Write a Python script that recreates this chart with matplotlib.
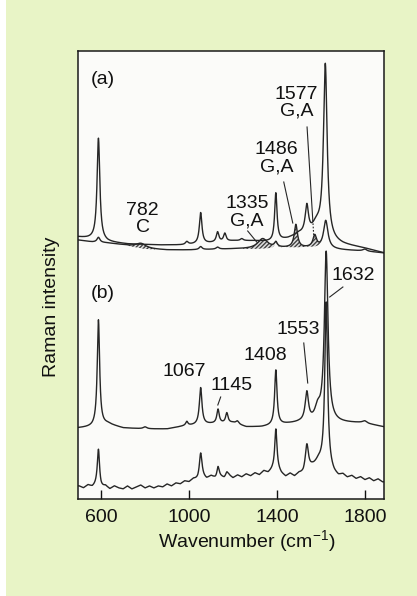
import numpy as np
import matplotlib.pyplot as plt
from matplotlib.patches import Rectangle

plt.rcParams['font.family'] = ['Liberation Sans', 'DejaVu Sans']
plt.rcParams['mathtext.fontset'] = 'custom'
plt.rcParams['mathtext.rm'] = 'Liberation Sans'
plt.rcParams['mathtext.it'] = 'Liberation Sans:italic'
plt.rcParams['mathtext.bf'] = 'Liberation Sans:bold'
plt.rcParams['hatch.linewidth'] = 0.9

x_ticks = [600, 1000, 1400, 1800]

# (a) upper spectrum: baseline anchors + peaks (centre, height, half width)
a_top_base_wn = [495, 560, 630, 720, 870, 980, 1100, 1200, 1300, 1380, 1450, 1500, 1700, 1790, 1887]
a_top_base_h = [262, 260, 257, 255, 254, 254, 256, 258, 258, 257, 260, 264, 254, 251, 246]
a_top_pk_wn = [588, 990, 1053, 1130, 1163, 1240, 1395, 1536, 1580, 1620]
a_top_pk_h = [102, 3, 31, 10, 8, 2, 48, 28, 12, 174]
a_top_pk_w = [7.5, 8, 7, 7, 7, 8, 6.5, 9, 25, 10]

# (a) lower spectrum, hatched bands marked
a_bot_base_wn = [495, 560, 630, 700, 800, 900, 1000, 1200, 1300, 1450, 1550, 1700, 1790, 1887]
a_bot_base_h = [259, 257, 256, 254, 250, 249, 249, 250, 250, 251, 251, 249, 248, 246]
a_bot_pk_wn = [588, 782, 1053, 1130, 1335, 1395, 1486, 1572, 1622, 1800]
a_bot_pk_h = [5, 5, 3, 2, 10, 5, 23, 12, 28, 2]
a_bot_pk_w = [8, 30, 8, 8, 28, 8, 9, 10, 12, 10]
a_bot_hatched = [782, 1335, 1486, 1572]

# (b) upper spectrum
b_top_base_wn = [495, 560, 630, 700, 800, 900, 980, 1100, 1200, 1260, 1330, 1450, 1500, 1700, 1790, 1887]
b_top_base_h = [71, 72, 75, 71, 70, 70, 73, 75, 76, 72, 72, 75, 76, 76, 76, 72]
b_top_pk_wn = [588, 800, 990, 1053, 1132, 1172, 1220, 1395, 1536, 1585, 1624, 1800]
b_top_pk_h = [106, 2, 4, 37, 14, 10, 3, 55, 29, 12, 170, 2]
b_top_pk_w = [6.5, 10, 6, 7, 6.5, 6.5, 8, 6.5, 9, 15, 10, 10]

# (b) lower (noisy) spectrum, baseline read every 20 cm-1 from 500
b_low_base_h = [
    13, 11, 14, 12, 14,
    11, 13, 10, 13, 11,
    10, 13, 10, 12, 14,
    11, 13, 11, 13, 12,
    15, 13, 16, 15, 18,
    17, 20, 19, 22, 20,
    23, 21, 23, 21, 24,
    21, 24, 22, 25, 23,
    26, 24, 28, 26, 29,
    30, 25, 22, 25, 22,
    25, 24, 28, 30, 30,
    31, 31, 28, 24, 22,
    24, 21, 23, 20, 22,
    19, 21, 18, 20, 17,
]
b_low_pk_wn = [588, 1053, 1132, 1172, 1395, 1536, 1588, 1624]
b_low_pk_h = [37, 25, 10, 4, 40, 26, 6, 165]
b_low_pk_w = [6, 7, 5.5, 6, 6, 8.5, 20, 7.5]

# peak labels: text, x, y
a_labels = [("782\nC", 789, 280), ("1335\nG,A", 1263, 287),
            ("1486\nG,A", 1399, 341), ("1577\nG,A", 1490, 396)]
b_labels = [("1632", 1745, 224), ("1553", 1495, 169), ("1408", 1345, 143),
            ("1067", 980, 127), ("1145", 1194, 114)]
leaders = [((1537, 1563), (372, 279)), ((1431, 1472), (317, 276)),
           ((1267, 1308), (268, 257)), ((1700, 1640), (212, 202)),
           ((1522, 1540), (156, 116)), ((1144, 1131), (102, 94))]

LINE = "#262626"


def lorentz(x, c, h, w):
    return h / (1.0 + ((x - c) / w) ** 2)


def spectrum(x, base_wn, base_h, pk_wn, pk_h, pk_w):
    y = np.interp(x, base_wn, base_h)
    for c, h, w in zip(pk_wn, pk_h, pk_w):
        y = y + lorentz(x, c, h, w)
    return y


def main():
    fig = plt.figure(figsize=(4.17, 5.96), dpi=100, facecolor="#e8f4c6")
    fig.patches.append(Rectangle((0, 0), 6 / 417, 1, transform=fig.transFigure,
                                 facecolor="white", edgecolor="none", zorder=0))
    ax = fig.add_axes([78 / 417, 1 - 499 / 596, 306 / 417, 448 / 596])
    ax.set_facecolor("#fbfbf9")

    x = np.linspace(495, 1887, 2800)

    a_top = spectrum(x, a_top_base_wn, a_top_base_h, a_top_pk_wn, a_top_pk_h, a_top_pk_w)
    a_bot = spectrum(x, a_bot_base_wn, a_bot_base_h, a_bot_pk_wn, a_bot_pk_h, a_bot_pk_w)
    b_top = spectrum(x, b_top_base_wn, b_top_base_h, b_top_pk_wn, b_top_pk_h, b_top_pk_w)
    b_low_wn = np.arange(500, 1900, 20)
    b_low = spectrum(x, b_low_wn, b_low_base_h, b_low_pk_wn, b_low_pk_h, b_low_pk_w)

    # hatched bands on the lower (a) curve
    for c in a_bot_hatched:
        i = a_bot_pk_wn.index(c)
        part = lorentz(x, c, a_bot_pk_h[i], a_bot_pk_w[i])
        mask = part > 0.9
        ax.fill_between(x, a_bot - part, a_bot, where=mask, facecolor="#d9d9d9",
                        edgecolor="#3a3a3a", hatch="////////", linewidth=0)

    for y in (a_bot, a_top, b_top, b_low):
        ax.plot(x, y, color=LINE, lw=1.0)

    for (xs, ys) in leaders:
        ax.plot(xs, ys, color=LINE, lw=0.8)
    ax.plot([1563, 1568], [279, 261], color=LINE, lw=0.8, ls=(0, (1.5, 1.5)))

    for txt, tx, ty in a_labels + b_labels:
        ax.text(tx, ty, txt, ha="center", va="center", fontsize=14,
                linespacing=1.0, color="#111111")
    ax.text(607, 419, "(a)", ha="center", va="center", fontsize=14, color="#111111")
    ax.text(607, 206, "(b)", ha="center", va="center", fontsize=14, color="#111111")

    ax.set_xlim(495, 1887)
    ax.set_ylim(0, 448)
    ax.set_xticks(x_ticks)
    ax.set_xticklabels([str(t) for t in x_ticks])
    ax.set_yticks([])
    ax.tick_params(axis="x", direction="in", length=6.5, width=1.0,
                   labelsize=14, pad=7, colors="#111111")
    for s in ax.spines.values():
        s.set_linewidth(1.1)
        s.set_color("#1a1a1a")

    fig.text(247 / 417, 1 - 541 / 596, "Wavenumber (cm$^{-1}$)", ha="center",
             va="center", fontsize=14, color="#111111")
    fig.text(52 / 417, 1 - 307 / 596, "Raman intensity", rotation=90,
             ha="center", va="center", fontsize=14, color="#111111")

    fig.savefig("out.png", dpi=100, facecolor=fig.get_facecolor())


if __name__ == "__main__":
    main()
